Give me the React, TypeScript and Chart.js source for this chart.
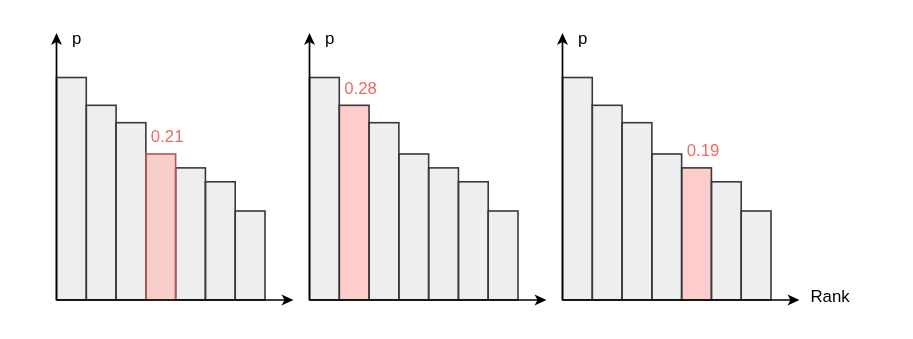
import React, { useEffect, useRef } from "react";
import { Chart, registerables } from "chart.js";

Chart.register(...registerables);

// ---- data ----
const ranks = ["1", "2", "3", "4", "5", "6", "7"];
const probabilities = [0.32, 0.28, 0.255, 0.21, 0.19, 0.17, 0.128];
const highlightIndex = [3, 1, 4];
const highlightFill = ["#f8cecc", "#ffcccc", "#ffcccc"];
const highlightStroke = ["#b85450", "#36393d", "#36393d"];
const yAxisTitle = "p";
const xAxisTitle = "Rank";

// ---- layout ----
const W = 913;
const H = 339;
const panelLefts = [56.5, 309.5, 562.5];
const panelWidth = 208.5;
const areaTop = 33;
const areaBottom = 300;
const yMax = 0.384;
const FONT = '16.8px "Liberation Sans", Arial, Helvetica, sans-serif';

function arrowHead(ctx: CanvasRenderingContext2D, tx: number, ty: number, dir: "up" | "right") {
  const L = 12;
  const hw = 5.5;
  const n = 3;
  ctx.beginPath();
  if (dir === "right") {
    ctx.moveTo(tx, ty);
    ctx.lineTo(tx - L, ty - hw);
    ctx.lineTo(tx - L + n, ty);
    ctx.lineTo(tx - L, ty + hw);
  } else {
    ctx.moveTo(tx, ty);
    ctx.lineTo(tx - hw, ty + L);
    ctx.lineTo(tx, ty + L - n);
    ctx.lineTo(tx + hw, ty + L);
  }
  ctx.closePath();
  ctx.fillStyle = "#000";
  ctx.fill();
}

function Panel({ idx }: { idx: number }) {
  const ref = useRef<HTMLCanvasElement | null>(null);
  useEffect(() => {
    if (!ref.current) return;
    const hi = highlightIndex[idx];
    const fills = probabilities.map((_, i) => (i === hi ? highlightFill[idx] : "#eeeeee"));
    const left = panelLefts[idx];
    const overlay = {
      id: "overlay" + idx,
      afterDatasetsDraw(chart: any) {
        const ctx: CanvasRenderingContext2D = chart.ctx;
        const meta = chart.getDatasetMeta(0);
        const area = chart.chartArea;
        ctx.save();
        ctx.lineWidth = 1.6;
        const order = meta.data.map((_: any, i: number) => i).filter((i: number) => i !== hi).concat([hi]);
        order.forEach((i: number) => {
          const el = meta.data[i];
          const p = el.getProps(["x", "y", "base", "width"], true);
          ctx.strokeStyle = i === hi ? highlightStroke[idx] : "#36393d";
          ctx.strokeRect(p.x - p.width / 2, p.y, p.width, p.base - p.y);
        });
        // axes
        const x0 = area.left;
        const y0 = chart.scales.y.getPixelForValue(0);
        const xTip = area.right + 28.5;
        ctx.strokeStyle = "#000";
        ctx.lineWidth = 1.7;
        ctx.beginPath();
        ctx.moveTo(x0, y0);
        ctx.lineTo(x0, area.top + 6);
        ctx.moveTo(x0, y0);
        ctx.lineTo(xTip - 6, y0);
        ctx.stroke();
        arrowHead(ctx, x0, area.top, "up");
        arrowHead(ctx, xTip, y0, "right");
        // texts
        ctx.font = FONT;
        ctx.textAlign = "left";
        ctx.textBaseline = "alphabetic";
        ctx.fillStyle = "#000";
        ctx.fillText(yAxisTitle, x0 + 15.5, area.top + 11);
        if (idx === 2) {
          ctx.fillText(xAxisTitle, xTip + 11, y0 + 1.5);
        }
        const hel = meta.data[hi].getProps(["x", "y", "width"], true);
        ctx.fillStyle = "#ea6b66";
        ctx.fillText(probabilities[hi].toFixed(2), hel.x - hel.width / 2 + 5, hel.y - 11.5);
        ctx.restore();
      },
    };
    const chart = new Chart(ref.current, {
      type: "bar",
      data: {
        labels: ranks,
        datasets: [
          {
            data: probabilities,
            backgroundColor: fills,
            borderWidth: 0,
            barPercentage: 1,
            categoryPercentage: 1,
          },
        ],
      },
      options: {
        responsive: false,
        animation: false,
        devicePixelRatio: 1,
        events: [],
        layout: {
          padding: {
            left: left,
            right: W - (left + panelWidth),
            top: areaTop,
            bottom: H - areaBottom,
          },
        },
        plugins: { legend: { display: false }, tooltip: { enabled: false } },
        scales: {
          x: { display: false, offset: true },
          y: { display: false, min: 0, max: yMax },
        },
      },
      plugins: [overlay],
    } as any);
    return () => chart.destroy();
  }, [idx]);
  return (
    <canvas
      ref={ref}
      width={W}
      height={H}
      style={{ position: "absolute", left: 0, top: 0, width: W, height: H }}
    />
  );
}

export default function App() {
  return (
    <div style={{ position: "absolute", left: 0, top: 0, width: W, height: H, background: "#fff" }}>
      <Panel idx={0} />
      <Panel idx={1} />
      <Panel idx={2} />
    </div>
  );
}
